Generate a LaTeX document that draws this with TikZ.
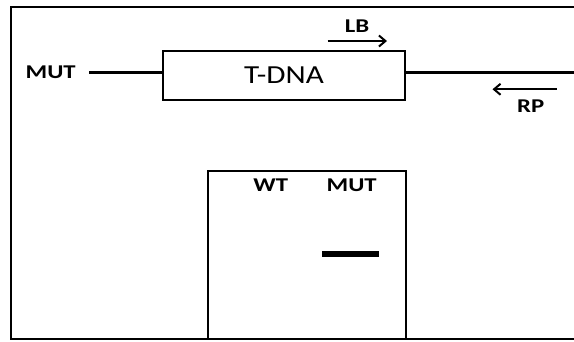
\documentclass[tikz,border=0pt]{standalone}
\usepackage{fontspec}
\usepackage{graphicx}
\setmainfont{Carlito}
\usetikzlibrary{arrows.meta}
% labels are set slightly wide
\newcommand{\widetext}[1]{\scalebox{1.2}[1]{#1}}
\newcommand{\widebold}[1]{\scalebox{1.27}[1]{#1}}
\begin{document}
\begin{tikzpicture}[x=1pt,y=-1pt,
  lbl/.style={font=\bfseries\fontsize{19.5}{19.5}\selectfont, inner sep=0pt},
  frameline/.style={line width=2pt},
  dnaline/.style={line width=3pt},
  primer/.style={line width=2pt, -{Straight Barb[length=6.5pt,width=11pt,line width=2pt]}},
  insert/.style={draw, line width=1.4pt, minimum width=242pt, minimum height=49pt, inner sep=0pt},
  gel/.style={draw, line width=2pt}]
  \useasboundingbox (0,0) rectangle (574,341);
  % outer frame, open on the right
  \draw[frameline] (574,6.5) -- (11,6.5) -- (11,339.3) -- (574,339.3);

  % genomic locus with the T-DNA insertion
  \node[insert] (tdna) at (284,75.5) {};
  \node[font=\fontsize{26}{26}\selectfont, inner sep=0pt] (tdnatext) at (284,75) {\widetext{T-DNA}};
  \coordinate (gleft) at (89,72.5);
  \coordinate (gright) at (574,72.5);
  \draw[dnaline] (gleft) -- (gleft -| tdna.west);
  \draw[dnaline] (gright -| tdna.east) -- (gright);
  \node[lbl] (mut) at (50.7,72.3) {\widebold{MUT}};

  % primers
  \coordinate (lbs) at (327.5,41);
  \coordinate (lbe) at (387,41);
  \draw[primer] (lbs) -- (lbe);
  \node[lbl] (lb) at (357,26.5) {\widebold{LB}};
  \coordinate (rps) at (556.5,89.3);
  \coordinate (rpe) at (492.5,89.3);
  \draw[primer] (rps) -- (rpe);
  \node[lbl] (rp) at (530.7,106.3) {\widebold{RP}};

  % gel
  \node[gel, minimum width=197.5pt, minimum height=168pt, inner sep=0pt, anchor=north west] (gelbox) at (207,169.5) {};
  \node[lbl] (wt) at (270.8,184.8) {\widebold{WT}};
  \node[lbl] (mutlane) at (351.7,184.8) {\widebold{MUT}};
  \fill (321.7,250.7) rectangle (379,257.3);
\end{tikzpicture}
\end{document}
